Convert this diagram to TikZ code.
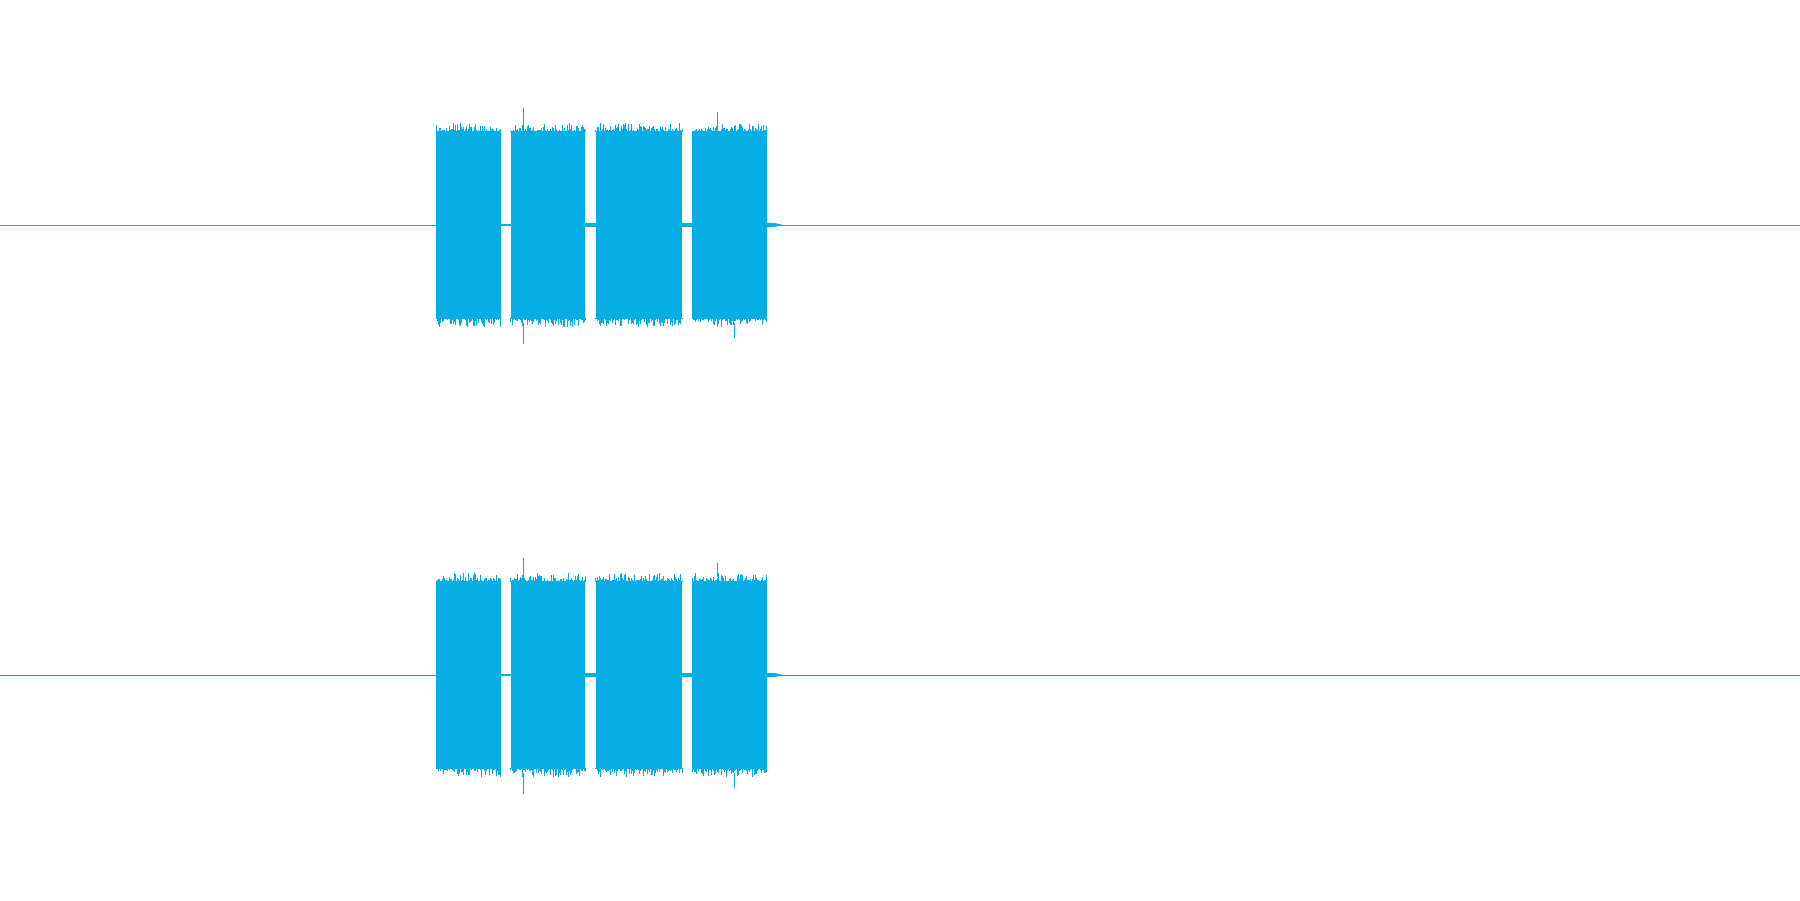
\documentclass[tikz,border=0pt]{standalone}
\definecolor{wave}{HTML}{06AEE5}
\begin{document}
\begin{tikzpicture}[x=0.02cm,y=-0.02cm,line width=0.6pt]
\tikzset{blk/.style={fill=wave,draw=none},base/.style={draw=wave,line width=0.35pt},spike/.style={draw=wave,line width=0.35pt}}
\useasboundingbox (0,0) rectangle (1568,784);
\pgfmathsetseed{7}
\foreach \c in {196,588}{
  \draw[base] (0,\c) -- (1568,\c);
  \foreach \a/\b in {380/436,445/510,519/594,603/668}{
    \fill[blk] (\a,\c-82) rectangle (\b,\c+82);
    \foreach \x in {\a,...,\b}{
      \pgfmathsetmacro{\t}{\c-82-7*rnd^2}
      \pgfmathsetmacro{\u}{\c+82+7*rnd^2}
      \draw[spike] (\x,\t) -- (\x,\c-81) (\x,\u) -- (\x,\c+81);
    }
  }
  \draw[spike] (456,\c-102) -- (456,\c-85) (456,\c+85) -- (456,\c+104);
  \draw[spike] (625,\c-98) -- (625,\c-85) (640,\c+85) -- (640,\c+98);
  \fill[wave] (436,\c-1) rectangle (445,\c+1);
  \fill[wave] (510,\c-2) rectangle (519,\c+2);
  \fill[wave] (594,\c-2) rectangle (603,\c+2);
  \fill[wave] (668,\c-2) -- (676,\c-1.5) -- (682,\c) -- (676,\c+1.5) -- (668,\c+2) -- cycle;
}
\end{tikzpicture}
\end{document}
